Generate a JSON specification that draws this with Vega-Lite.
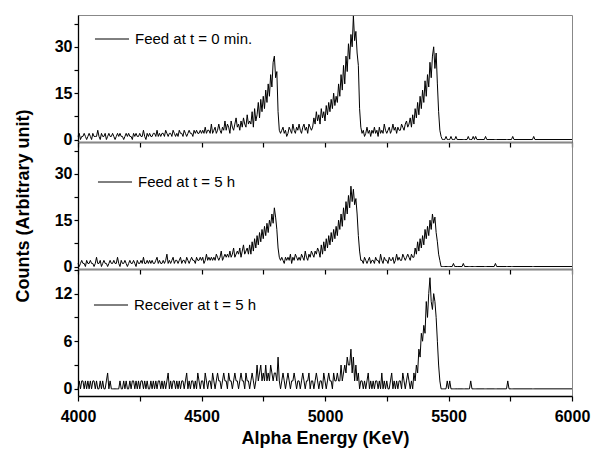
{
"$schema": "https://vega.github.io/schema/vega-lite/v6.json",
"background": "white",
"padding": {"left": 13, "top": 13, "right": 15, "bottom": 5},
"spacing": 0,
"bounds": "flush",
"data": {"values": [
{"e":4000,"a":1,"b":1,"c":0},{"e":4005,"a":2,"b":0,"c":1},{"e":4010,"a":0,"b":1,"c":0},{"e":4015,"a":1,"b":2,"c":1},{"e":4020,"a":1,"b":1,"c":1},{"e":4025,"a":2,"b":1,"c":0},{"e":4030,"a":1,"b":0,"c":1},{"e":4035,"a":0,"b":2,"c":0},{"e":4040,"a":1,"b":1,"c":1},{"e":4045,"a":2,"b":1,"c":0},
{"e":4050,"a":1,"b":2,"c":1},{"e":4055,"a":0,"b":1,"c":0},{"e":4060,"a":2,"b":1,"c":1},{"e":4065,"a":1,"b":0,"c":1},{"e":4070,"a":1,"b":1,"c":0},{"e":4075,"a":1,"b":3,"c":1},{"e":4080,"a":3,"b":1,"c":0},{"e":4085,"a":1,"b":1,"c":0},{"e":4090,"a":0,"b":2,"c":1},{"e":4095,"a":2,"b":0,"c":0},
{"e":4100,"a":1,"b":1,"c":1},{"e":4105,"a":1,"b":2,"c":0},{"e":4110,"a":2,"b":1,"c":0},{"e":4115,"a":0,"b":1,"c":1},{"e":4120,"a":1,"b":0,"c":2},{"e":4125,"a":2,"b":1,"c":0},{"e":4130,"a":1,"b":2,"c":1},{"e":4135,"a":1,"b":1,"c":0},{"e":4140,"a":2,"b":1,"c":0},{"e":4145,"a":1,"b":2,"c":0},
{"e":4150,"a":0,"b":1,"c":0},{"e":4155,"a":1,"b":1,"c":0},{"e":4160,"a":2,"b":3,"c":0},{"e":4165,"a":1,"b":1,"c":0},{"e":4170,"a":2,"b":0,"c":1},{"e":4175,"a":1,"b":2,"c":0},{"e":4180,"a":1,"b":1,"c":0},{"e":4185,"a":0,"b":1,"c":1},{"e":4190,"a":1,"b":2,"c":0},{"e":4195,"a":2,"b":1,"c":1},
{"e":4200,"a":1,"b":0,"c":0},{"e":4205,"a":2,"b":1,"c":0},{"e":4210,"a":1,"b":2,"c":1},{"e":4215,"a":1,"b":1,"c":0},{"e":4220,"a":0,"b":1,"c":1},{"e":4225,"a":2,"b":2,"c":1},{"e":4230,"a":1,"b":1,"c":0},{"e":4235,"a":2,"b":0,"c":1},{"e":4240,"a":1,"b":2,"c":0},{"e":4245,"a":1,"b":1,"c":1},
{"e":4250,"a":2,"b":1,"c":0},{"e":4255,"a":1,"b":2,"c":1},{"e":4260,"a":1,"b":1,"c":1},{"e":4265,"a":3,"b":3,"c":0},{"e":4270,"a":1,"b":1,"c":1},{"e":4275,"a":0,"b":1,"c":0},{"e":4280,"a":2,"b":2,"c":1},{"e":4285,"a":1,"b":1,"c":0},{"e":4290,"a":2,"b":2,"c":0},{"e":4295,"a":1,"b":1,"c":1},
{"e":4300,"a":1,"b":2,"c":0},{"e":4305,"a":2,"b":1,"c":1},{"e":4310,"a":2,"b":1,"c":0},{"e":4315,"a":1,"b":2,"c":1},{"e":4320,"a":3,"b":3,"c":0},{"e":4325,"a":1,"b":1,"c":1},{"e":4330,"a":2,"b":2,"c":1},{"e":4335,"a":1,"b":1,"c":0},{"e":4340,"a":2,"b":1,"c":1},{"e":4345,"a":2,"b":2,"c":0},
{"e":4350,"a":1,"b":1,"c":1},{"e":4355,"a":3,"b":2,"c":0},{"e":4360,"a":2,"b":4,"c":1},{"e":4365,"a":1,"b":1,"c":2},{"e":4370,"a":2,"b":2,"c":0},{"e":4375,"a":2,"b":1,"c":1},{"e":4380,"a":1,"b":2,"c":0},{"e":4385,"a":3,"b":3,"c":1},{"e":4390,"a":2,"b":1,"c":1},{"e":4395,"a":1,"b":2,"c":0},
{"e":4400,"a":2,"b":2,"c":1},{"e":4405,"a":1,"b":1,"c":0},{"e":4410,"a":3,"b":2,"c":1},{"e":4415,"a":2,"b":3,"c":0},{"e":4420,"a":2,"b":1,"c":1},{"e":4425,"a":1,"b":2,"c":1},{"e":4430,"a":3,"b":2,"c":0},{"e":4435,"a":2,"b":1,"c":1},{"e":4440,"a":1,"b":3,"c":2},{"e":4445,"a":2,"b":2,"c":0},
{"e":4450,"a":3,"b":1,"c":1},{"e":4455,"a":2,"b":2,"c":0},{"e":4460,"a":2,"b":3,"c":1},{"e":4465,"a":1,"b":2,"c":1},{"e":4470,"a":3,"b":2,"c":0},{"e":4475,"a":2,"b":1,"c":1},{"e":4480,"a":3,"b":3,"c":0},{"e":4485,"a":2,"b":2,"c":2},{"e":4490,"a":2,"b":2,"c":1},{"e":4495,"a":3,"b":3,"c":0},
{"e":4500,"a":2,"b":2,"c":1},{"e":4505,"a":3,"b":3,"c":1},{"e":4510,"a":2,"b":1,"c":0},{"e":4515,"a":4,"b":2,"c":2},{"e":4520,"a":2,"b":4,"c":1},{"e":4525,"a":3,"b":2,"c":0},{"e":4530,"a":3,"b":3,"c":1},{"e":4535,"a":2,"b":2,"c":1},{"e":4540,"a":5,"b":3,"c":0},{"e":4545,"a":2,"b":2,"c":2},
{"e":4550,"a":3,"b":3,"c":1},{"e":4555,"a":4,"b":2,"c":0},{"e":4560,"a":2,"b":4,"c":1},{"e":4565,"a":3,"b":3,"c":2},{"e":4570,"a":5,"b":2,"c":1},{"e":4575,"a":3,"b":3,"c":1},{"e":4580,"a":2,"b":5,"c":0},{"e":4585,"a":4,"b":2,"c":1},{"e":4590,"a":3,"b":3,"c":2},{"e":4595,"a":6,"b":4,"c":1},
{"e":4600,"a":3,"b":3,"c":1},{"e":4605,"a":5,"b":4,"c":0},{"e":4610,"a":4,"b":3,"c":2},{"e":4615,"a":2,"b":5,"c":1},{"e":4620,"a":6,"b":3,"c":1},{"e":4625,"a":4,"b":4,"c":0},{"e":4630,"a":3,"b":6,"c":1},{"e":4635,"a":5,"b":3,"c":2},{"e":4640,"a":7,"b":4,"c":1},{"e":4645,"a":4,"b":5,"c":1},
{"e":4650,"a":5,"b":4,"c":0},{"e":4655,"a":3,"b":6,"c":1},{"e":4660,"a":6,"b":3,"c":2},{"e":4665,"a":4,"b":5,"c":1},{"e":4670,"a":7,"b":7,"c":1},{"e":4675,"a":5,"b":4,"c":0},{"e":4680,"a":4,"b":5,"c":2},{"e":4685,"a":8,"b":6,"c":1},{"e":4690,"a":5,"b":4,"c":1},{"e":4695,"a":6,"b":7,"c":0},
{"e":4700,"a":5,"b":4,"c":1},{"e":4705,"a":9,"b":8,"c":2},{"e":4710,"a":4,"b":5,"c":1},{"e":4715,"a":10,"b":9,"c":0},{"e":4720,"a":6,"b":6,"c":1},{"e":4725,"a":8,"b":10,"c":3},{"e":4730,"a":12,"b":7,"c":1},{"e":4735,"a":7,"b":11,"c":2},{"e":4740,"a":13,"b":8,"c":3},{"e":4745,"a":9,"b":12,"c":1},
{"e":4750,"a":14,"b":9,"c":2},{"e":4755,"a":10,"b":13,"c":1},{"e":4760,"a":16,"b":10,"c":3},{"e":4765,"a":12,"b":14,"c":1},{"e":4770,"a":18,"b":11,"c":2},{"e":4775,"a":14,"b":15,"c":1},{"e":4780,"a":21,"b":13,"c":3},{"e":4785,"a":17,"b":17,"c":2},{"e":4790,"a":25,"b":14,"c":1},{"e":4795,"a":27,"b":19,"c":2},
{"e":4800,"a":20,"b":16,"c":2},{"e":4805,"a":22,"b":12,"c":1},{"e":4810,"a":9,"b":6,"c":4},{"e":4815,"a":3,"b":3,"c":1},{"e":4820,"a":2,"b":2,"c":0},{"e":4825,"a":3,"b":3,"c":1},{"e":4830,"a":4,"b":2,"c":2},{"e":4835,"a":2,"b":1,"c":1},{"e":4840,"a":3,"b":3,"c":0},{"e":4845,"a":1,"b":2,"c":1},
{"e":4850,"a":2,"b":3,"c":2},{"e":4855,"a":4,"b":2,"c":1},{"e":4860,"a":3,"b":4,"c":0},{"e":4865,"a":2,"b":1,"c":1},{"e":4870,"a":5,"b":3,"c":1},{"e":4875,"a":3,"b":2,"c":2},{"e":4880,"a":2,"b":4,"c":1},{"e":4885,"a":4,"b":3,"c":0},{"e":4890,"a":3,"b":2,"c":1},{"e":4895,"a":5,"b":3,"c":1},
{"e":4900,"a":3,"b":2,"c":0},{"e":4905,"a":2,"b":4,"c":1},{"e":4910,"a":4,"b":3,"c":2},{"e":4915,"a":5,"b":2,"c":1},{"e":4920,"a":3,"b":5,"c":0},{"e":4925,"a":4,"b":3,"c":1},{"e":4930,"a":2,"b":2,"c":1},{"e":4935,"a":5,"b":4,"c":2},{"e":4940,"a":4,"b":3,"c":0},{"e":4945,"a":3,"b":5,"c":1},
{"e":4950,"a":4,"b":4,"c":1},{"e":4955,"a":7,"b":3,"c":0},{"e":4960,"a":5,"b":5,"c":1},{"e":4965,"a":9,"b":4,"c":2},{"e":4970,"a":6,"b":6,"c":1},{"e":4975,"a":8,"b":5,"c":0},{"e":4980,"a":5,"b":3,"c":1},{"e":4985,"a":10,"b":7,"c":1},{"e":4990,"a":7,"b":4,"c":0},{"e":4995,"a":9,"b":8,"c":2},
{"e":5000,"a":6,"b":5,"c":1},{"e":5005,"a":11,"b":9,"c":0},{"e":5010,"a":8,"b":6,"c":1},{"e":5015,"a":12,"b":10,"c":2},{"e":5020,"a":9,"b":7,"c":1},{"e":5025,"a":13,"b":11,"c":1},{"e":5030,"a":10,"b":8,"c":0},{"e":5035,"a":15,"b":12,"c":2},{"e":5040,"a":11,"b":9,"c":1},{"e":5045,"a":14,"b":13,"c":1},
{"e":5050,"a":12,"b":10,"c":2},{"e":5055,"a":18,"b":15,"c":1},{"e":5060,"a":14,"b":12,"c":1},{"e":5065,"a":21,"b":17,"c":3},{"e":5070,"a":16,"b":13,"c":1},{"e":5075,"a":24,"b":19,"c":2},{"e":5080,"a":18,"b":15,"c":3},{"e":5085,"a":27,"b":21,"c":2},{"e":5090,"a":22,"b":17,"c":4},{"e":5095,"a":31,"b":23,"c":3},
{"e":5100,"a":26,"b":19,"c":3},{"e":5105,"a":34,"b":26,"c":5},{"e":5110,"a":30,"b":21,"c":2},{"e":5115,"a":40,"b":25,"c":4},{"e":5120,"a":32,"b":20,"c":1},{"e":5125,"a":35,"b":22,"c":3},{"e":5130,"a":28,"b":17,"c":1},{"e":5135,"a":24,"b":10,"c":2},{"e":5140,"a":10,"b":5,"c":0},{"e":5145,"a":4,"b":2,"c":1},
{"e":5150,"a":2,"b":2,"c":1},{"e":5155,"a":3,"b":1,"c":0},{"e":5160,"a":1,"b":3,"c":1},{"e":5165,"a":2,"b":2,"c":0},{"e":5170,"a":4,"b":1,"c":1},{"e":5175,"a":2,"b":2,"c":2},{"e":5180,"a":3,"b":3,"c":0},{"e":5185,"a":1,"b":1,"c":1},{"e":5190,"a":3,"b":2,"c":0},{"e":5195,"a":2,"b":2,"c":1},
{"e":5200,"a":4,"b":1,"c":0},{"e":5205,"a":2,"b":3,"c":1},{"e":5210,"a":3,"b":2,"c":1},{"e":5215,"a":1,"b":2,"c":0},{"e":5220,"a":4,"b":1,"c":1},{"e":5225,"a":2,"b":4,"c":0},{"e":5230,"a":3,"b":2,"c":2},{"e":5235,"a":2,"b":1,"c":0},{"e":5240,"a":5,"b":3,"c":1},{"e":5245,"a":3,"b":2,"c":0},
{"e":5250,"a":2,"b":2,"c":1},{"e":5255,"a":3,"b":1,"c":0},{"e":5260,"a":4,"b":3,"c":0},{"e":5265,"a":2,"b":2,"c":1},{"e":5270,"a":3,"b":2,"c":2},{"e":5275,"a":5,"b":3,"c":0},{"e":5280,"a":3,"b":1,"c":1},{"e":5285,"a":4,"b":2,"c":0},{"e":5290,"a":2,"b":4,"c":1},{"e":5295,"a":4,"b":2,"c":0},
{"e":5300,"a":3,"b":3,"c":1},{"e":5305,"a":3,"b":2,"c":1},{"e":5310,"a":5,"b":2,"c":0},{"e":5315,"a":4,"b":4,"c":2},{"e":5320,"a":3,"b":3,"c":1},{"e":5325,"a":5,"b":2,"c":0},{"e":5330,"a":6,"b":3,"c":1},{"e":5335,"a":4,"b":4,"c":2},{"e":5340,"a":5,"b":3,"c":1},{"e":5345,"a":7,"b":2,"c":0},
{"e":5350,"a":4,"b":4,"c":1},{"e":5355,"a":8,"b":3,"c":0},{"e":5360,"a":5,"b":3,"c":2},{"e":5365,"a":10,"b":6,"c":1},{"e":5370,"a":7,"b":4,"c":3},{"e":5375,"a":12,"b":8,"c":2},{"e":5380,"a":8,"b":5,"c":5},{"e":5385,"a":14,"b":9,"c":4},{"e":5390,"a":10,"b":6,"c":7},{"e":5395,"a":16,"b":10,"c":6},
{"e":5400,"a":12,"b":7,"c":8},{"e":5405,"a":19,"b":12,"c":7},{"e":5410,"a":14,"b":9,"c":11},{"e":5415,"a":21,"b":13,"c":9},{"e":5420,"a":17,"b":10,"c":12},{"e":5425,"a":25,"b":15,"c":14},{"e":5430,"a":20,"b":12,"c":11},{"e":5435,"a":27,"b":17,"c":10},{"e":5440,"a":30,"b":14,"c":12},{"e":5445,"a":23,"b":16,"c":11},
{"e":5450,"a":28,"b":11,"c":9},{"e":5455,"a":18,"b":8,"c":6},{"e":5460,"a":9,"b":4,"c":3},{"e":5465,"a":3,"b":2,"c":1},{"e":5470,"a":1,"b":0,"c":0},{"e":5475,"a":0,"b":0,"c":0},{"e":5480,"a":0,"b":0,"c":0},
{"e":5485,"a":0,"b":0,"c":0},{"e":5490,"a":1,"b":0,"c":0},{"e":5495,"a":0,"b":0,"c":1},{"e":5500,"a":0,"b":0,"c":0},{"e":5505,"a":0,"b":0,"c":1},{"e":5510,"a":1,"b":0,"c":0},{"e":5515,"a":0,"b":0,"c":0},{"e":5520,"a":0,"b":1,"c":0},{"e":5525,"a":0,"b":0,"c":0},{"e":5530,"a":1,"b":0,"c":0},{"e":5535,"a":0,"b":0,"c":0},
{"e":5555,"a":0,"b":0,"c":0},{"e":5560,"a":0,"b":1,"c":0},{"e":5565,"a":0,"b":0,"c":0},{"e":5575,"a":0,"b":0,"c":0},{"e":5580,"a":1,"b":0,"c":0},{"e":5585,"a":0,"b":0,"c":0},{"e":5590,"a":0,"b":0,"c":1},{"e":5595,"a":0,"b":0,"c":0},{"e":5600,"a":1,"b":0,"c":0},{"e":5605,"a":0,"b":0,"c":0},{"e":5610,"a":1,"b":0,"c":0},{"e":5615,"a":0,"b":0,"c":0},
{"e":5645,"a":0,"b":0,"c":0},{"e":5650,"a":1,"b":0,"c":0},{"e":5655,"a":0,"b":0,"c":0},{"e":5685,"a":0,"b":0,"c":0},{"e":5690,"a":0,"b":1,"c":0},{"e":5695,"a":0,"b":0,"c":0},{"e":5735,"a":0,"b":0,"c":0},{"e":5740,"a":0,"b":0,"c":1},{"e":5745,"a":0,"b":0,"c":0},{"e":5755,"a":0,"b":0,"c":0},{"e":5760,"a":1,"b":0,"c":0},{"e":5765,"a":0,"b":0,"c":0},
{"e":5840,"a":0,"b":0,"c":0},{"e":5845,"a":1,"b":0,"c":0},{"e":5850,"a":0,"b":0,"c":0},{"e":6000,"a":0,"b":0,"c":0}
]},
"config": {
  "font": "Liberation Sans",
  "view": {"stroke": "#888888", "strokeWidth": 1},
  "axis": {
    "grid": false, "domainColor": "black", "domainWidth": 1.3, "tickColor": "black", "tickWidth": 1.2, "tickSize": 5,
    "labelFont": "Liberation Sans", "labelFontWeight": "bold", "labelFontSize": 16, "labelColor": "black", "labelFlush": false, "labelOverlap": false,
    "titleFont": "Liberation Sans", "titleFontWeight": "bold", "titleFontSize": 18, "titleColor": "black"
  },
  "legend": {
    "title": null, "symbolType": "stroke", "symbolSize": 1160, "symbolStrokeWidth": 1, "symbolStrokeColor": "black",
    "labelFont": "Liberation Sans", "labelFontSize": 15, "labelColor": "black", "labelOffset": 5, "padding": 0
  }
},
"resolve": {"scale": {"color": "independent", "y": "independent"}, "legend": {"color": "independent"}},
"vconcat": [
  {
    "width": 494, "height": 127,
    "mark": {"type": "line", "strokeWidth": 1, "color": "black"},
    "encoding": {
      "x": {"field": "e", "type": "quantitative", "scale": {"domain": [4000, 6000], "nice": false},
            "axis": {"values": [4000,4250,4500,4750,5000,5250,5500,5750,6000], "labels": false, "title": null}},
      "y": {"field": "a", "type": "quantitative", "scale": {"domain": [-0.8, 40.3], "nice": false, "zero": false},
            "axis": {"values": [0,7.5,15,22.5,30,37.5], "labelExpr": "datum.value % 15 === 0 ? datum.label : ''", "title": null, "tickSize": 4}},
      "color": {"datum": "Feed at t = 0 min.", "type": "nominal", "scale": {"range": ["black"]},
                "legend": {"orient": "none", "legendX": 16, "legendY": 6}}
    }
  },
  {
    "width": 494, "height": 127,
    "mark": {"type": "line", "strokeWidth": 1, "color": "black"},
    "encoding": {
      "x": {"field": "e", "type": "quantitative", "scale": {"domain": [4000, 6000], "nice": false},
            "axis": {"values": [4000,4250,4500,4750,5000,5250,5500,5750,6000], "labels": false, "title": null}},
      "y": {"field": "b", "type": "quantitative", "scale": {"domain": [-0.8, 40.3], "nice": false, "zero": false},
            "axis": {"values": [0,7.5,15,22.5,30,37.5], "labelExpr": "datum.value % 15 === 0 ? datum.label : ''", "title": "Counts (Arbitrary unit)", "titlePadding": 22, "tickSize": 4}},
      "color": {"datum": "Feed at t = 5 h", "type": "nominal", "scale": {"range": ["black"]},
                "legend": {"orient": "none", "legendX": 19, "legendY": 22}}
    }
  },
  {
    "width": 494, "height": 127,
    "mark": {"type": "line", "strokeWidth": 1, "color": "black"},
    "encoding": {
      "x": {"field": "e", "type": "quantitative", "scale": {"domain": [4000, 6000], "nice": false},
            "axis": {"values": [4000,4250,4500,4750,5000,5250,5500,5750,6000], "format": "d", "labelExpr": "datum.value % 500 === 0 ? datum.label : ''", "labelPadding": 7, "title": "Alpha Energy (KeV)", "titlePadding": 5}},
      "y": {"field": "c", "type": "quantitative", "scale": {"domain": [-0.9, 15.1], "nice": false, "zero": false},
            "axis": {"values": [0,3,6,9,12,15], "labelExpr": "datum.value % 6 === 0 ? datum.label : ''", "title": null, "tickSize": 4}},
      "color": {"datum": "Receiver at t = 5 h", "type": "nominal", "scale": {"range": ["black"]},
                "legend": {"orient": "none", "legendX": 15, "legendY": 18}}
    }
  }
]
}
